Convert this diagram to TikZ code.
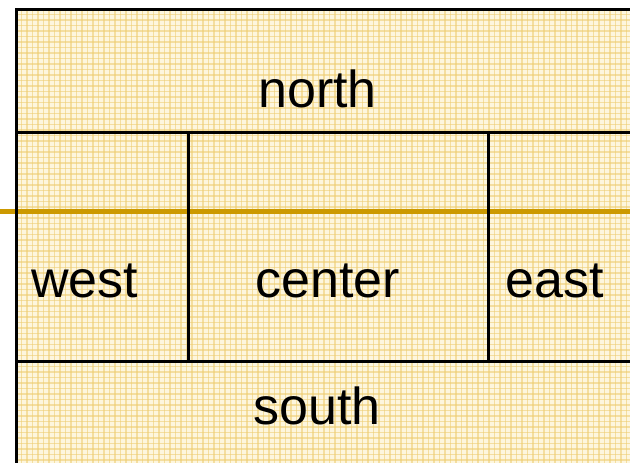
\documentclass[tikz,border=0pt]{standalone}
\usepackage{fontspec}
\setmainfont{Liberation Sans}
\definecolor{paper}{RGB}{253,246,222}
\definecolor{plaid}{RGB}{238,204,110}
\definecolor{goldline}{RGB}{204,153,0}
\tikzset{
  frameline/.style={draw=black,line width=3pt},
  region/.style={anchor=base,inner sep=0pt,font=\fontsize{52}{62}\selectfont},
}
\begin{document}
\begin{tikzpicture}[x=1pt,y=-1pt]
\useasboundingbox (0,0) rectangle (630,463);
% background pattern
\fill[paper] (16,9) rectangle (630,463);
\begin{scope}
\clip (16,9) rectangle (630,463);
\foreach \i in {0,...,120} {
  \draw[plaid,line width=1.2pt,opacity=0.55] (16+5.5*\i,9) -- (16+5.5*\i,463);
  \draw[plaid,line width=1.2pt,opacity=0.55] (16,9+5.5*\i) -- (630,9+5.5*\i);
}
\end{scope}
% gold rule
\coordinate (gl) at (0,211.5);
\coordinate (gr) at (630,211.5);
\draw[goldline,line width=5pt] (gl) -- (gr);
% frame
\coordinate (tl) at (16,9);
\coordinate (tr) at (630,9);
\coordinate (bl) at (16,463);
\coordinate (nl) at (16,132);
\coordinate (nr) at (630,132);
\coordinate (sl) at (16,361.5);
\coordinate (sr) at (630,361.5);
\coordinate (w1) at (188.5,132);
\coordinate (w2) at (188.5,361.5);
\coordinate (e1) at (488.5,132);
\coordinate (e2) at (488.5,361.5);
\draw[frameline] (tr) -- (tl) -- (bl);
\draw[frameline] (nl) -- (nr);
\draw[frameline] (sl) -- (sr);
\draw[frameline] (w1) -- (w2);
\draw[frameline] (e1) -- (e2);
% labels
\node[region] (north) at (317.5,107) {north};
\node[region] (west) at (84.5,297) {west};
\node[region] (center) at (327.5,297) {center};
\node[region] (east) at (554.5,297) {east};
\node[region] (south) at (317,424) {south};
\end{tikzpicture}
\end{document}
